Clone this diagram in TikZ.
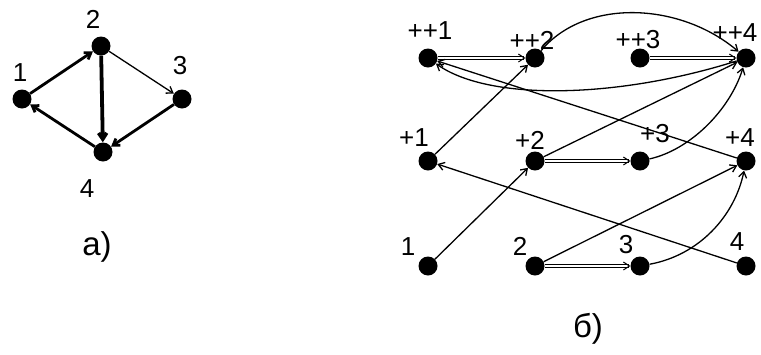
\documentclass[tikz,border=0pt]{standalone}
\usepackage{fontspec}
\setmainfont{Liberation Sans}
\usetikzlibrary{arrows.meta}
\begin{document}
\begin{tikzpicture}[x=1pt,y=-1pt,
  vtx/.style={circle,fill=black,inner sep=0pt,minimum size=19pt},
  lbl/.style={font=\fontsize{26}{26}\selectfont,inner sep=0pt},
  captionlbl/.style={font=\fontsize{33}{33}\selectfont,inner sep=0pt},
  tip/.style={-{Straight Barb[length=6pt,width=8pt]}},
  thin arc/.style={tip,line width=1.3pt},
  bold arc/.style={tip,line width=2.8pt},
  heavy arc/.style={tip,line width=3.8pt},
  twin arc/.style={tip,line width=1pt,double,double distance=1.3pt},
]
\useasboundingbox (0,0) rectangle (761,354);

% ---------- graph a)
\node[vtx] (a1) at (22,99) {};
\node[vtx] (a2) at (101,46) {};
\node[vtx] (a3) at (182,99) {};
\node[vtx] (a4) at (103,152) {};
\node[lbl] at (20,73) {1};
\node[lbl] at (93,19) {2};
\node[lbl] at (180,66) {3};
\node[lbl] at (87,189) {4};
\draw[bold arc] (a1) -- (a2);
\draw[thin arc] (a2) -- (a3);
\draw[heavy arc] (a2) -- (a4);
\draw[bold arc] (a3) -- (a4);
\draw[bold arc] (a4) -- (a1);
\node[captionlbl] at (97,247) {a)};

% ---------- time-expanded network б)
\foreach \n/\x in {1/428,2/535,3/640,4/746}{
  \node[vtx] (p\n) at (\x,58) {};
  \node[vtx] (q\n) at (\x,161) {};
  \node[vtx] (r\n) at (\x,266) {};
}
% labels
\node[lbl] at (430,31) {++1};
\node[lbl] at (532,40) {++2};
\node[lbl] at (638,40) {++3};
\node[lbl] at (735,33) {++4};
\node[lbl] at (414,138) {+1};
\node[lbl] at (530,140) {+2};
\node[lbl] at (655,134) {+3};
\node[lbl] at (740,138) {+4};
\node[lbl] at (408,247) {1};
\node[lbl] at (520,246) {2};
\node[lbl] at (626,245) {3};
\node[lbl] at (737,242) {4};

% top level
\draw[twin arc] (p1) -- (p2);
\draw[twin arc] (p3) -- (p4);
\draw[thin arc] (p2) .. controls (585,-2) and (680,2) .. (p4);
\draw[thin arc] (p4) .. controls (620,98) and (490,102) .. (p1);
% middle level
\draw[thin arc] (q1) -- (p2);
\draw[twin arc] (q2) -- (q3);
\draw[thin arc] (q2) -- (p4);
\draw[thin arc] (q3) .. controls (690,150) and (730,110) .. (p4);
\draw[thin arc] (q4) -- (p1);
% bottom level
\draw[thin arc] (r1) -- (q2);
\draw[twin arc] (r2) -- (r3);
\draw[thin arc] (r2) -- (q4);
\draw[thin arc] (r3) .. controls (700,255) and (735,215) .. (q4);
\draw[thin arc] (r4) -- (q1);

\node[captionlbl] at (588,329) {б)};
\end{tikzpicture}
\end{document}
